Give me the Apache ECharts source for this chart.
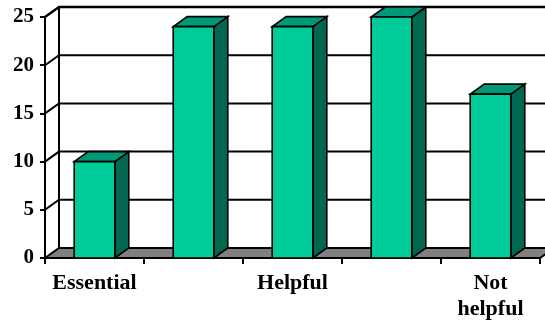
<!DOCTYPE html>
<html>
<head>
<meta charset="utf-8">
<script src="https://cdn.jsdelivr.net/npm/echarts@6/dist/echarts.min.js"></script>
<style>
  html, body { margin: 0; padding: 0; background: #fff; }
  #chart { width: 545px; height: 322px; }
</style>
</head>
<body>
<div id="chart"></div>
<script>
// Survey answers: how useful each option was rated
const categories = ['Essential', '', 'Helpful', '', 'Not\nhelpful'];
const counts = [10, 24, 24, 25, 17];
const yTicks = [0, 5, 10, 15, 20, 25];

// pseudo-3D depth offset of the back wall (pixels)
const DEPTH_X = 14;
const DEPTH_Y = -10;

const FONT = "'Liberation Serif', 'Times New Roman', serif";

const chart = echarts.init(document.getElementById('chart'), null, { renderer: 'canvas' });

// back wall, side wall and floor of the 3D box
function renderWalls(params, api) {
  const cs = params.coordSys;
  const left = cs.x, right = cs.x + cs.width;
  const y0 = api.coord([0, 0])[1];
  const children = [];
  const top = api.coord([0, yTicks[yTicks.length - 1]])[1];

  // back wall panel
  children.push({
    type: 'rect',
    shape: { x: left + DEPTH_X, y: top + DEPTH_Y, width: cs.width + 40, height: y0 - top },
    style: { fill: '#ffffff', stroke: null }
  });
  // gridlines on back wall and their diagonals on the side wall
  yTicks.forEach(function (v) {
    const y = api.coord([0, v])[1];
    if (v !== 0) {
      children.push({
        type: 'polyline',
        shape: { points: [[left, y], [left + DEPTH_X, y + DEPTH_Y], [right + DEPTH_X + 40, y + DEPTH_Y]] },
        style: { stroke: '#000', lineWidth: v === yTicks[yTicks.length - 1] ? 2.5 : 2, fill: null }
      });
    }
  });
  // back wall left edge
  children.push({
    type: 'line',
    shape: { x1: left + DEPTH_X, y1: top + DEPTH_Y, x2: left + DEPTH_X, y2: y0 + DEPTH_Y },
    style: { stroke: '#000', lineWidth: 2 }
  });
  // floor
  children.push({
    type: 'polygon',
    shape: { points: [[left, y0], [left + DEPTH_X, y0 + DEPTH_Y], [right + DEPTH_X, y0 + DEPTH_Y], [right, y0]] },
    style: { fill: '#808080', stroke: '#000', lineWidth: 2, lineJoin: 'miter' }
  });
  return { type: 'group', children: children };
}

// one 3D column: front face, right side and top
function renderBar(params, api) {
  const idx = api.value(0);
  const val = api.value(1);
  const base = api.coord([idx, 0]);
  const head = api.coord([idx, val]);
  const w = api.size([1, 0])[0] * 0.41;
  const x0 = base[0] - w / 2, x1 = base[0] + w / 2;
  const yb = base[1], yt = head[1];
  const stroke = { stroke: '#000', lineWidth: 1.6, lineJoin: 'miter' };
  return {
    type: 'group',
    children: [
      {
        type: 'polygon',
        shape: { points: [[x1, yb], [x1 + DEPTH_X, yb + DEPTH_Y], [x1 + DEPTH_X, yt + DEPTH_Y], [x1, yt]] },
        style: Object.assign({ fill: '#006850' }, stroke)
      },
      {
        type: 'polygon',
        shape: { points: [[x0, yt], [x0 + DEPTH_X, yt + DEPTH_Y], [x1 + DEPTH_X, yt + DEPTH_Y], [x1, yt]] },
        style: Object.assign({ fill: '#009977' }, stroke)
      },
      {
        type: 'rect',
        shape: { x: x0, y: yt, width: w, height: yb - yt },
        style: Object.assign({ fill: '#00CC99' }, stroke)
      }
    ]
  };
}

chart.setOption({
  animation: false,
  backgroundColor: '#ffffff',
  grid: { left: 45, right: 5, top: 17, bottom: 62, containLabel: false },
  xAxis: {
    type: 'category',
    data: categories,
    boundaryGap: true,
    axisLine: { show: true, lineStyle: { color: '#000', width: 2 } },
    axisTick: { show: true, length: 6, alignWithLabel: false, interval: 0, lineStyle: { color: '#000', width: 2 } },
    axisLabel: {
      interval: 0,
      color: '#000',
      fontFamily: FONT,
      fontWeight: 'bold',
      fontSize: 22,
      lineHeight: 26,
      margin: 12,
      verticalAlign: 'top'
    },
    splitLine: { show: false }
  },
  yAxis: {
    type: 'value',
    min: 0,
    max: 25,
    interval: 5,
    axisLine: { show: true, lineStyle: { color: '#000', width: 2 } },
    axisTick: { show: true, length: 5, lineStyle: { color: '#000', width: 2 } },
    axisLabel: {
      color: '#000',
      fontFamily: FONT,
      fontWeight: 'bold',
      fontSize: 21,
      margin: 11
    },
    splitLine: { show: false }
  },
  series: [
    {
      type: 'custom',
      name: 'walls',
      renderItem: renderWalls,
      data: [[0, 0]],
      z: 1,
      silent: true,
      clip: false
    },
    {
      type: 'custom',
      name: 'Responses',
      renderItem: renderBar,
      data: counts.map(function (c, i) { return [i, c]; }),
      encode: { x: 0, y: 1 },
      z: 3,
      clip: false
    }
  ]
});
</script>
</body>
</html>
